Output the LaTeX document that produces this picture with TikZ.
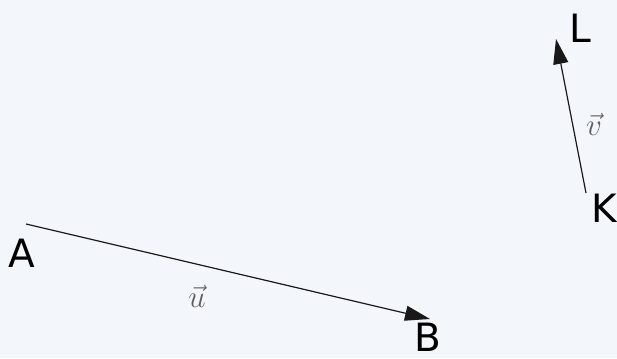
\documentclass[tikz,border=0pt]{standalone}
\usepackage{fontspec}
\setsansfont{DejaVu Sans}
\usetikzlibrary{arrows.meta}
\definecolor{bgcol}{HTML}{F3F6FA}
\tikzset{
  vecline/.style={line width=1.2pt, black!90, -{Triangle[length=25pt, width=15pt]}},
  ptlabel/.style={font=\sffamily\fontsize{39}{39}\selectfont, inner sep=0pt},
  veclabel/.style={black!62, font=\fontsize{20}{20}\selectfont, inner sep=0pt, scale=1.5}
}

\begin{document}
\begin{tikzpicture}[x=1pt, y=-1pt]
  % 背景
  \fill[bgcol] (0,0) rectangle (617,358);
  \useasboundingbox (0,0) rectangle (617,358);

  % 端点
  \coordinate (a) at (26,224);
  \coordinate (b) at (430,319);
  \coordinate (k) at (586,193);
  \coordinate (l) at (556,39);

  % 向量 u: A -> B
  \draw[vecline] (a) -- (b);
  \node[ptlabel] (labA) at (22,253) {A};
  \node[ptlabel, anchor=south] (labB) at (428,352) {B};
  \node[veclabel] (labu) at (197,296) {$\vec{u}$};

  % 向量 v: K -> L
  \draw[vecline] (k) -- (l);
  \node[ptlabel] (labL) at (580,28) {L};
  \node[ptlabel, anchor=east] (labK) at (617,208) {K};
  \node[veclabel] (labv) at (594,124) {$\vec{v}$};
\end{tikzpicture}
\end{document}
